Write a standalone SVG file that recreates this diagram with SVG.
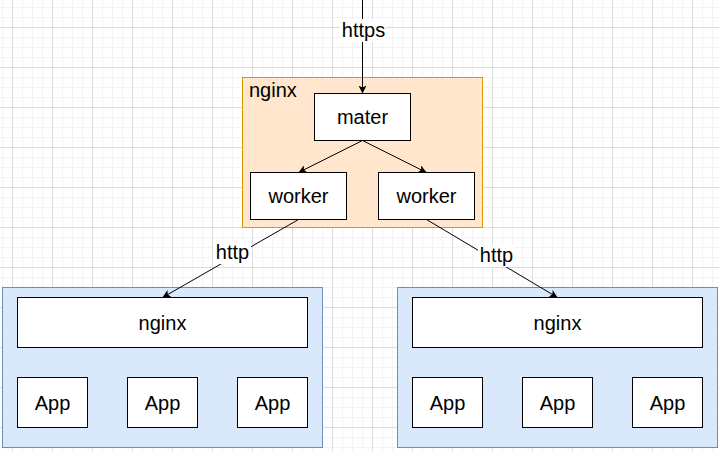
<svg xmlns="http://www.w3.org/2000/svg" width="719" height="451" viewBox="0 0 719 451">
<style>
text{font-family:"Liberation Sans",Arial,Helvetica,sans-serif;font-size:20px;fill:#000;text-anchor:middle}
.w{fill:#fff;stroke:#000;stroke-width:1}
.edge{stroke:#000;stroke-width:1;fill:none}
.lbl{fill:#fff}
</style>
<defs>
<pattern id="grid" patternUnits="userSpaceOnUse" x="12" y="27" width="40" height="40">
<path d="M10.5,0V40M20.5,0V40M30.5,0V40M0,10.5H40M0,20.5H40M0,30.5H40" stroke="#f3f3f3" stroke-width="1" fill="none"/>
<path d="M0.5,0V40M0,0.5H40" stroke="#dddddd" stroke-width="1" fill="none"/>
</pattern>
<marker id="arr" viewBox="0 0 8 8" markerWidth="8" markerHeight="8" refX="8" refY="4" orient="auto" markerUnits="userSpaceOnUse">
<path d="M0,0L8,4L0,8L2,4z" fill="#000"/>
</marker>
</defs>
<rect width="719" height="451" fill="#fff"/>
<rect width="719" height="451" fill="url(#grid)"/>

<g id="nginx-front">
<rect x="242.5" y="77.5" width="240" height="150" fill="#ffe6cc" stroke="#d79b00"/>
<text x="249" y="97" style="text-anchor:start">nginx</text>
</g>
<g id="mater">
<rect class="w" x="314.5" y="93.5" width="96" height="47"/>
<text x="362.5" y="124">mater</text>
</g>
<g id="worker1">
<rect class="w" x="250.5" y="172.5" width="96" height="47"/>
<text x="298.5" y="203">worker</text>
</g>
<g id="worker2">
<rect class="w" x="378.5" y="172.5" width="96" height="47"/>
<text x="426.5" y="203">worker</text>
</g>

<g id="group-left">
<rect x="2.5" y="287.5" width="320" height="160" fill="#dae8fc" stroke="#6c8ebf"/>
</g>
<g id="nginx-left">
<rect class="w" x="17.5" y="297.5" width="290" height="50"/>
<text x="162.5" y="330">nginx</text>
</g>
<g id="app-l1"><rect class="w" x="17.5" y="377.5" width="70" height="50"/><text x="52.5" y="410">App</text></g>
<g id="app-l2"><rect class="w" x="127.5" y="377.5" width="70" height="50"/><text x="162.5" y="410">App</text></g>
<g id="app-l3"><rect class="w" x="237.5" y="377.5" width="70" height="50"/><text x="272.5" y="410">App</text></g>

<g id="group-right">
<rect x="397.5" y="287.5" width="320" height="160" fill="#dae8fc" stroke="#6c8ebf"/>
</g>
<g id="nginx-right">
<rect class="w" x="412.5" y="297.5" width="290" height="50"/>
<text x="557.5" y="330">nginx</text>
</g>
<g id="app-r1"><rect class="w" x="412.5" y="377.5" width="70" height="50"/><text x="447.5" y="410">App</text></g>
<g id="app-r2"><rect class="w" x="522.5" y="377.5" width="70" height="50"/><text x="557.5" y="410">App</text></g>
<g id="app-r3"><rect class="w" x="632.5" y="377.5" width="70" height="50"/><text x="667.5" y="410">App</text></g>

<g id="connectors">
<path class="edge" d="M362.5,0V93.5" marker-end="url(#arr)"/>
<rect class="lbl" x="340" y="19" width="46" height="23"/>
<text x="363.5" y="37">https</text>
<path class="edge" d="M362.5,140.5L298.5,172.5" marker-end="url(#arr)"/>
<path class="edge" d="M362.5,140.5L426.5,172.5" marker-end="url(#arr)"/>
<path class="edge" d="M298.5,219.5L162.5,297.5" marker-end="url(#arr)"/>
<rect class="lbl" x="213" y="242" width="38" height="22"/>
<text x="232.5" y="259">http</text>
<path class="edge" d="M426.5,219.5L557.5,297.5" marker-end="url(#arr)"/>
<rect class="lbl" x="478" y="245" width="37" height="22"/>
<text x="496.5" y="262">http</text>
</g>
</svg>
